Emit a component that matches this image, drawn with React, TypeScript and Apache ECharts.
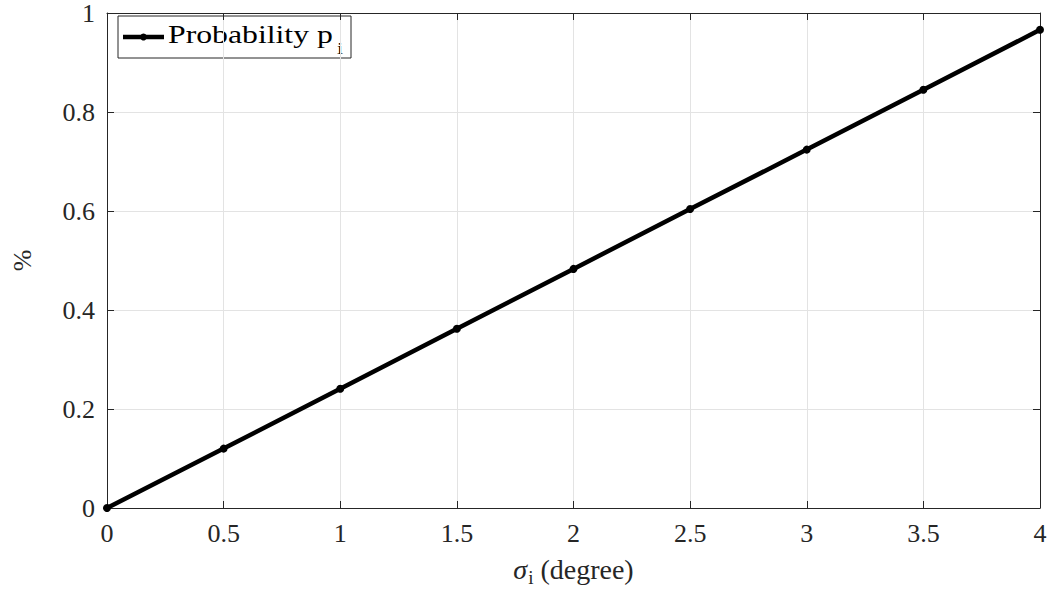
import React, { useEffect, useRef } from "react";
import * as echarts from "echarts";

const xValues = [0, 0.5, 1, 1.5, 2, 2.5, 3, 3.5, 4];
const probability = [0, 0.12, 0.241, 0.362, 0.483, 0.604, 0.724, 0.845, 0.966];
const legendText = "Probability p";
const legendSub = "i";

const FONT = "Liberation Serif";
const AX = "#262626";

export default function App() {
  const ref = useRef<HTMLDivElement>(null);
  useEffect(() => {
    if (!ref.current) return;
    const chart = echarts.init(ref.current, undefined, { renderer: "svg" });
    const data = xValues.map((x, i) => [x, probability[i]]);
    const axisCommon = {
      type: "value" as const,
      min: 0,
      interval: 0.5,
      axisLine: { show: true, onZero: false, lineStyle: { color: AX, width: 1 } },
      axisTick: { show: true, inside: true, length: 7, lineStyle: { color: AX } },
    };
    chart.setOption({
      animation: false,
      backgroundColor: "#ffffff",
      textStyle: { fontFamily: FONT },
      grid: { left: 107, right: 16, top: 8, bottom: 88, containLabel: false },
      graphic: [
        {
          type: "group",
          x: 118,
          y: 16,
          z: 100,
          children: [
            {
              type: "rect",
              shape: { x: 0, y: 0, width: 233, height: 42 },
              style: { fill: "#ffffff", stroke: AX, lineWidth: 1 },
            },
            {
              type: "line",
              shape: { x1: 5, y1: 21, x2: 46, y2: 21 },
              style: { stroke: "#000", lineWidth: 4.5 },
            },
            {
              type: "circle",
              shape: { cx: 25.5, cy: 21, r: 3.5 },
              style: { fill: "#000" },
            },
            {
              type: "text",
              x: 50,
              y: 19,
              scaleX: 1.27,
              style: {
                text: legendText,
                fontFamily: FONT,
                fontSize: 25,
                fill: "#000",
                textAlign: "left",
                verticalAlign: "middle",
              },
            },
            {
              type: "text",
              x: 219,
              y: 32,
              scaleX: 1.27,
              style: {
                text: legendSub,
                fontFamily: FONT,
                fontSize: 17,
                fill: "#000",
                textAlign: "left",
                verticalAlign: "middle",
              },
            },
          ],
        },
      ],
      xAxis: [
        {
          ...axisCommon,
          max: 4,
          position: "bottom",
          name: "{g|σ}{s|i}{t| (degree)}",
          nameLocation: "middle",
          nameGap: 44,
          nameTextStyle: {
            fontFamily: FONT,
            color: AX,
            rich: {
              g: { fontFamily: FONT, fontSize: 28, fontStyle: "italic", color: AX },
              s: { fontFamily: FONT, fontSize: 19, color: AX, verticalAlign: "bottom", padding: [16, 0, 0, 1] },
              t: { fontFamily: FONT, fontSize: 28, color: AX },
            },
          },
          axisLabel: { fontFamily: FONT, fontSize: 26, color: AX, margin: 12 },
          splitLine: { show: true, lineStyle: { color: "#e3e3e3", width: 1 } },
        },
        {
          ...axisCommon,
          max: 4,
          position: "top",
          axisLabel: { show: false },
          splitLine: { show: false },
        },
      ],
      yAxis: [
        {
          ...axisCommon,
          interval: 0.2,
          max: 1,
          position: "left",
          name: "%",
          nameLocation: "middle",
          nameGap: 72,
          nameRotate: 90,
          nameTextStyle: { fontFamily: FONT, fontSize: 26, color: AX },
          axisLabel: { fontFamily: FONT, fontSize: 26, color: AX, margin: 12, formatter: (v: number) => String(Number(v.toFixed(1))) },
          splitLine: { show: true, lineStyle: { color: "#e3e3e3", width: 1 } },
        },
        {
          ...axisCommon,
          interval: 0.2,
          max: 1,
          position: "right",
          axisLabel: { show: false },
          splitLine: { show: false },
        },
      ],
      series: [
        {
          name: "Probability p_i",
          type: "line",
          data,
          symbol: "circle",
          symbolSize: 8,
          lineStyle: { color: "#000", width: 4.5 },
          itemStyle: { color: "#000" },
          clip: false,
          z: 5,
        },
      ],
    });
    return () => chart.dispose();
  }, []);
  return <div ref={ref} style={{ width: 1056, height: 596, position: "absolute", left: 0, top: 0 }} />;
}
